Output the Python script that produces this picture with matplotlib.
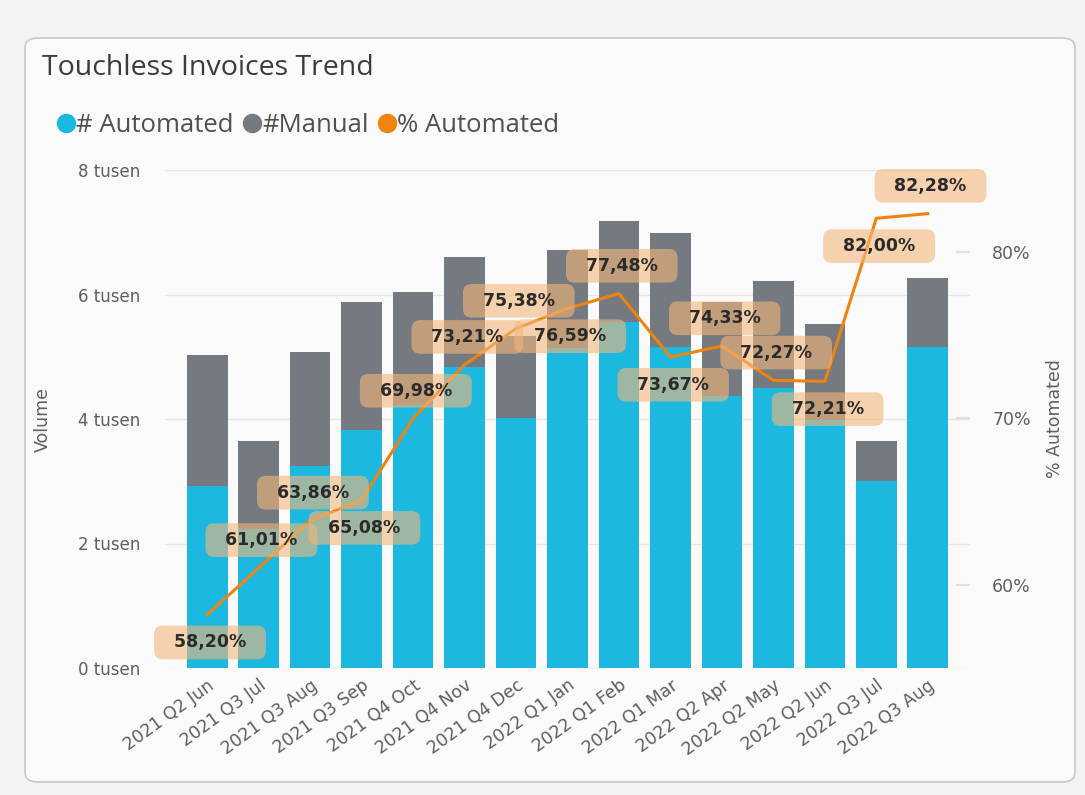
import matplotlib.pyplot as plt
import numpy as np
from matplotlib.patches import FancyBboxPatch
from matplotlib.lines import Line2D

# months on the x axis
months = ['2021 Q2 Jun', '2021 Q3 Jul', '2021 Q3 Aug', '2021 Q3 Sep', '2021 Q4 Oct',
          '2021 Q4 Nov', '2021 Q4 Dec', '2022 Q1 Jan', '2022 Q1 Feb', '2022 Q1 Mar',
          '2022 Q2 Apr', '2022 Q2 May', '2022 Q2 Jun', '2022 Q3 Jul', '2022 Q3 Aug']
# volumes in tusen (thousands)
automated = [2.92, 2.23, 3.24, 3.83, 4.23, 4.84, 4.02, 5.14, 5.56, 5.15, 4.37, 4.50, 3.99, 3.00, 5.16]
manual = [2.11, 1.42, 1.83, 2.05, 1.81, 1.76, 1.31, 1.57, 1.62, 1.84, 1.51, 1.72, 1.54, 0.65, 1.11]
# % automated
pct = [58.20, 61.01, 63.86, 65.08, 69.98, 73.21, 75.38, 76.59, 77.48, 73.67,
       74.33, 72.27, 72.21, 82.00, 82.28]
# which side of the line each data label sits on
label_side = ['below', 'above', 'above', 'below', 'above', 'above', 'above', 'below',
              'above', 'below', 'above', 'above', 'below', 'below', 'above']

cyan = '#1db8df'
grey = '#757a80'
orange = '#f0820f'
txt = '#605e5c'

fig = plt.figure(figsize=(10.85, 7.95), dpi=100)
fig.patch.set_facecolor('#f3f3f3')
card = FancyBboxPatch((25 / 1085, 1 - 782 / 795), 1050 / 1085, 744 / 795,
                      boxstyle='round,pad=0,rounding_size=0.012',
                      transform=fig.transFigure, fc='#fafafa', ec='#c8c8c8', lw=1.2,
                      zorder=-10)
fig.patches.append(card)

ax = fig.add_axes([165 / 1085, 1 - 668 / 795, 805 / 1085, 498 / 795])
ax.set_facecolor('none')
x = np.arange(len(months))

ax.bar(x, automated, width=0.79, color=cyan, zorder=2)
ax.bar(x, manual, width=0.79, bottom=automated, color=grey, zorder=2)

ax.set_xlim(-0.82, len(months) - 1 + 0.82)
ax.set_ylim(0, 8)
ax.set_yticks([0, 2, 4, 6, 8])
ax.set_yticklabels(['%d tusen' % v for v in [0, 2, 4, 6, 8]])
ax.grid(axis='y', color='#e6e6e6', lw=1, zorder=0)
ax.set_xticks(x)
ax.set_xticklabels(months, rotation=36, ha='right', rotation_mode='anchor')
ax.tick_params(axis='both', length=0, labelcolor=txt, labelsize=12.5)
ax.tick_params(axis='y', pad=18, labelsize=12)
ax.tick_params(axis='x', pad=6)
for s in ax.spines.values():
    s.set_visible(False)
ax.set_ylabel('Volume', color=txt, fontsize=12.5)
ax.yaxis.set_label_coords(-0.14, 0.5)

ax2 = ax.twinx()
ax2.plot(x, pct, color=orange, lw=2.2, zorder=3)
ax2.set_ylim(55.0, 84.9)
ax2.set_yticks([60, 70, 80])
ax2.set_yticklabels(['60%', '70%', '80%'])
ax2.tick_params(axis='y', direction='in', length=10, color='#e0e0e0', width=1.5,
                labelcolor=txt, labelsize=12.5, pad=16)
for s in ax2.spines.values():
    s.set_visible(False)
ax2.set_ylabel('% Automated', color=txt, fontsize=12.5)
ax2.yaxis.set_label_coords(1.095, 0.5)

for xi, p, side in zip(x, pct, label_side):
    dy = 20 if side == 'above' else -20
    ax2.annotate('  ' + ('%.2f%%' % p).replace('.', ',') + '  ', (xi, p), xytext=(2, dy),
                 textcoords='offset points', ha='center', va='center',
                 fontsize=12.5, fontweight='bold', color='#2b2b2b',
                 fontfamily='DejaVu Sans',
                 bbox=dict(boxstyle='round,pad=0.45,rounding_size=0.5',
                           fc='#f3b77a', ec='none', alpha=0.6),
                 zorder=5)

fig.text(42 / 1085, 1 - 68 / 795, 'Touchless Invoices Trend', fontsize=20.5,
         color='#3b3b3b', va='center', ha='left', family='Open Sans')

handles = [Line2D([], [], marker='o', ls='none', color=c, markersize=13)
           for c in [cyan, grey, orange]]
fig.legend(handles, ['# Automated', '#Manual', '% Automated'], loc='center left',
           bbox_to_anchor=(30 / 1085, 1 - 125 / 795), ncol=3, frameon=False,
           handletextpad=-0.1, columnspacing=0.2, handlelength=1.0,
           prop={'family': 'Open Sans', 'size': 18.5}, labelcolor='#505050')

fig.savefig('out.png', dpi=100, facecolor=fig.get_facecolor())
